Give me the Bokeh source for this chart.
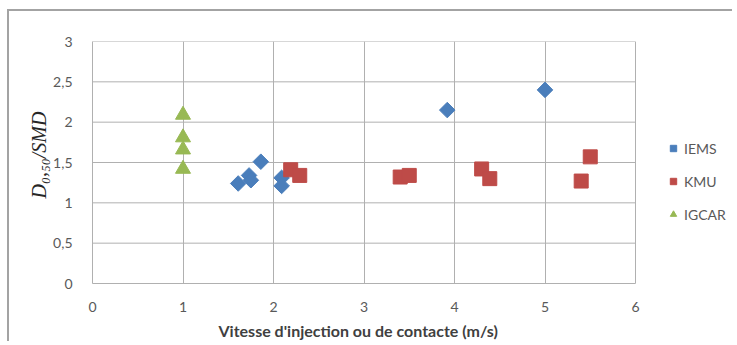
from math import pi
from bokeh.plotting import figure
from bokeh.models import Range1d, FixedTicker, Legend, LegendItem, Title
from bokeh.embed import file_html
from bokeh.resources import INLINE

# ---- data ----
iems_x = [1.61, 1.73, 1.75, 1.86, 2.09, 2.09, 3.92, 5.00]
iems_y = [1.24, 1.34, 1.28, 1.51, 1.31, 1.21, 2.15, 2.40]
kmu_x = [2.19, 2.29, 3.40, 3.50, 4.30, 4.39, 5.40, 5.50]
kmu_y = [1.41, 1.34, 1.32, 1.34, 1.42, 1.30, 1.27, 1.57]
igcar_x = [1.0, 1.0, 1.0, 1.0]
igcar_y = [2.09, 1.81, 1.66, 1.42]
x_ticks = [0, 1, 2, 3, 4, 5, 6]
y_ticks = [0, 0.5, 1, 1.5, 2, 2.5, 3]
y_tick_labels = ["0", "0,5", "1", "1,5", "2", "2,5", "3"]
x_title = "Vitesse d'injection ou de contacte (m/s)"
y_title = "D\u2080,\u2085\u2080/SMD"
series_names = ["IEMS", "KMU", "IGCAR"]

FONT = "Lato"
GRID = "#b0b0b0"

# frame extends to the right edge so the legend is not clipped;
# the axis and grid lines are bounded to the 0..6 data area
X_MAX_VIEW = 640 / 90.5

p = figure(width=725, height=332, output_backend="svg", toolbar_location=None,
           x_range=Range1d(0, X_MAX_VIEW), y_range=Range1d(0, 3),
           min_border_left=83, min_border_right=2, min_border_top=30, min_border_bottom=60)
p.styles = {"border-top": "2px solid #a3a3a3", "border-left": "2px solid #a3a3a3",
            "margin-left": "7px", "margin-top": "9px"}

p.outline_line_color = None
p.xaxis.ticker = FixedTicker(ticks=x_ticks)
p.yaxis.ticker = FixedTicker(ticks=y_ticks)
p.xaxis.bounds = (x_ticks[0], x_ticks[-1])
p.yaxis.major_label_overrides = {t: l for t, l in zip(y_ticks, y_tick_labels)}
for ax in (p.xaxis, p.yaxis):
    ax.axis_line_color = GRID
    ax.major_tick_line_color = None
    ax.minor_tick_line_color = None
    ax.major_label_text_font = FONT
    ax.major_label_text_font_size = "14px"
    ax.major_label_text_color = "#595959"
p.xaxis.major_label_standoff = 12
p.yaxis.major_label_standoff = 14
p.xgrid.grid_line_color = GRID
p.ygrid.grid_line_color = None

# horizontal grid lines limited to the 0..6 area
p.segment(x0=[x_ticks[0]] * len(y_ticks), x1=[x_ticks[-1]] * len(y_ticks),
          y0=y_ticks, y1=y_ticks, line_color=GRID, line_width=1)

p.add_layout(Title(text=x_title, align="left", offset=126, standoff=8,
                   text_font=FONT, text_font_size="16px", text_font_style="bold",
                   text_color="#404040"), "below")
p.add_layout(Title(text=y_title, align="left", offset=85, standoff=2,
                   text_font="Liberation Serif", text_font_size="20px", text_font_style="italic",
                   text_color="#262626"), "left")

r1 = p.scatter(iems_x, iems_y, marker="square", angle=pi / 4, size=11,
               fill_color="#4a7ebb", line_color="#4a7ebb")
r2 = p.scatter(kmu_x, kmu_y, marker="square", size=14, fill_color="#be4b48", line_color="#be4b48")
r3 = p.scatter(igcar_x, igcar_y, marker="triangle", size=15, fill_color="#98b954", line_color="#98b954")

legend = Legend(items=[LegendItem(label=n, renderers=[r]) for n, r in zip(series_names, [r1, r2, r3])],
                location=(573, 60), orientation="vertical",
                border_line_color=None, background_fill_alpha=0,
                padding=0, margin=0, spacing=15, glyph_width=16, glyph_height=18,
                label_standoff=3, label_text_font=FONT, label_text_font_size="14px",
                label_text_color="#595959")
p.add_layout(legend)

open("out.html", "w").write(file_html(p, INLINE))
